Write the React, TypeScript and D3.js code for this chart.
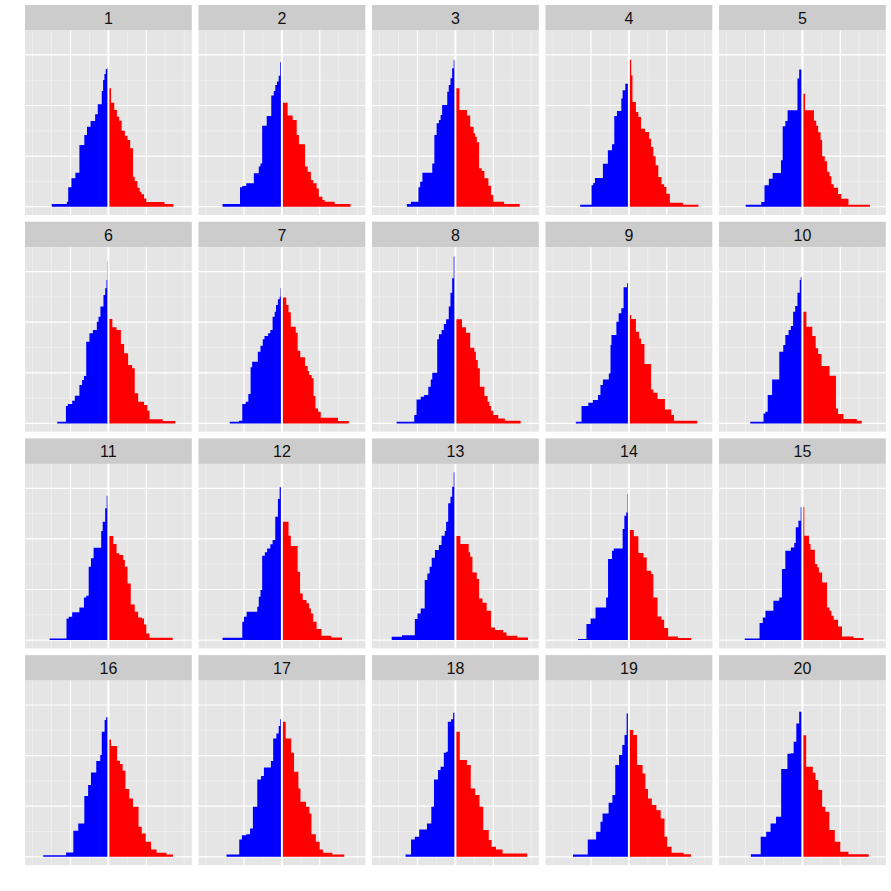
import React from 'react';
import * as d3 from 'd3';

const PANEL_LABELS = ["1","2","3","4","5","6","7","8","9","10","11","12","13","14","15","16","17","18","19","20"];
const X_MAJOR = [-2, 0, 2];
const X_MINOR = [-4, -3, -1, 1, 3, 4];
const Y_MAJOR = [0, 50, 100, 150];
const Y_MINOR = [25, 75, 125];
const X_DOMAIN: [number, number] = [-4.4, 4.4];
const Y_DOMAIN: [number, number] = [-8.2, 174.1];

type Step = [number, number];

// [left edge, count] steps; last entry is the closing edge
const BLUE_STEPS: Step[][] = [
  [[-2.99,2.6],[-2.19,4.9],[-2.12,19.1],[-1.95,28.0],[-1.74,33.6],[-1.53,61.0],[-1.27,70.9],[-1.13,79.1],[-0.94,84.7],[-0.70,91.3],[-0.56,101.2],[-0.35,114.4],[-0.28,125.2],[-0.21,131.2],[-0.14,136.1],[-0.07,137.4],[0,0]],
  [[-3.13,2.6],[-2.21,19.1],[-2.09,20.4],[-1.88,23.1],[-1.48,33.0],[-1.22,39.6],[-1.13,42.8],[-1.04,80.1],[-0.80,89.6],[-0.56,109.8],[-0.43,114.4],[-0.35,120.3],[-0.26,123.6],[-0.17,129.5],[-0.09,142.7],[0,0]],
  [[-2.56,2.6],[-2.35,4.9],[-1.95,19.1],[-1.86,24.7],[-1.74,33.6],[-1.22,42.8],[-1.11,70.9],[-0.99,82.4],[-0.87,85.7],[-0.78,90.6],[-0.70,100.5],[-0.43,113.7],[-0.35,120.3],[-0.26,126.9],[-0.17,136.8],[-0.09,145.0],[0,0]],
  [[-2.57,2.0],[-1.97,21.1],[-1.88,23.4],[-1.79,28.3],[-1.37,42.5],[-1.11,55.7],[-0.89,61.6],[-0.77,89.6],[-0.63,94.6],[-0.40,106.8],[-0.33,115.0],[-0.19,121.6],[0,0]],
  [[-2.99,2.0],[-2.17,4.6],[-2.0,21.1],[-1.77,27.7],[-1.57,33.3],[-1.13,45.8],[-1.04,79.4],[-0.90,84.7],[-0.78,95.3],[-0.26,126.6],[-0.17,135.5],[0,0]],
  [[-2.70,1.6],[-2.24,17.1],[-2.14,19.1],[-1.91,22.4],[-1.77,27.4],[-1.53,37.9],[-1.39,42.8],[-1.29,46.8],[-1.17,80.8],[-1.0,89.0],[-0.82,92.3],[-0.61,100.5],[-0.52,105.5],[-0.42,115.4],[-0.26,126.9],[-0.17,133.5],[-0.10,141.7],[-0.05,159.9],[0,0]],
  [[-2.75,1.6],[-2.26,2.6],[-2.09,19.1],[-1.91,21.4],[-1.77,29.0],[-1.65,55.4],[-1.57,61.0],[-1.27,70.9],[-1.13,76.8],[-1.01,83.1],[-0.92,86.4],[-0.73,89.0],[-0.61,92.3],[-0.49,105.5],[-0.38,110.4],[-0.31,117.0],[-0.21,122.6],[-0.12,125.2],[-0.07,133.5],[0,0]],
  [[-3.10,1.6],[-2.17,8.2],[-2.05,23.7],[-1.83,26.4],[-1.65,28.0],[-1.43,36.3],[-1.30,43.5],[-1.22,50.1],[-0.96,83.1],[-0.87,88.0],[-0.73,92.3],[-0.61,98.2],[-0.49,102.8],[-0.35,115.4],[-0.26,129.2],[-0.17,143.4],[-0.09,164.8],[0,0]],
  [[-2.80,1.6],[-2.50,17.1],[-2.14,20.4],[-1.90,23.1],[-1.63,28.0],[-1.50,37.9],[-1.37,43.5],[-1.06,49.4],[-0.97,77.5],[-0.92,87.3],[-0.66,100.5],[-0.54,108.8],[-0.40,113.7],[-0.28,134.5],[-0.10,138.4],[0,0]],
  [[-2.75,1.6],[-2.05,9.9],[-1.95,11.5],[-1.83,28.0],[-1.60,43.5],[-1.22,70.9],[-1.01,77.5],[-0.90,87.3],[-0.73,92.3],[-0.61,96.2],[-0.49,110.4],[-0.38,116.0],[-0.26,129.2],[-0.14,141.7],[-0.09,144.4],[0,0]],
  [[-3.10,1.6],[-2.21,21.4],[-2.09,23.1],[-1.91,27.4],[-1.53,32.3],[-1.29,42.2],[-1.17,43.8],[-1.04,72.5],[-0.92,80.8],[-0.78,91.3],[-0.38,107.8],[-0.30,117.0],[-0.17,130.2],[-0.09,142.7],[0,0]],
  [[-3.13,2.3],[-2.09,18.1],[-2.0,23.1],[-1.86,28.0],[-1.30,32.9],[-1.22,42.8],[-1.13,49.4],[-1.04,83.4],[-0.90,86.7],[-0.78,90.6],[-0.61,94.6],[-0.49,98.9],[-0.35,121.9],[-0.21,139.4],[-0.12,151.0],[0,0]],
  [[-3.36,3.3],[-2.82,4.9],[-2.14,20.8],[-2.0,26.4],[-1.83,31.3],[-1.62,59.3],[-1.48,65.9],[-1.36,72.5],[-1.25,81.4],[-1.08,89.0],[-0.87,93.9],[-0.73,103.2],[-0.56,107.8],[-0.49,117.0],[-0.38,135.1],[-0.26,141.7],[-0.17,151.6],[-0.09,165.8],[0,0]],
  [[-2.68,1.0],[-2.24,15.8],[-2.02,21.4],[-1.76,32.3],[-1.20,42.2],[-1.10,80.1],[-0.89,88.3],[-0.80,90.6],[-0.33,109.8],[-0.24,122.9],[-0.14,126.2],[-0.07,144.4],[0,0]],
  [[-3.04,1.6],[-2.26,16.8],[-2.09,22.4],[-1.95,29.0],[-1.53,38.9],[-1.22,42.2],[-1.08,70.2],[-0.90,88.3],[-0.61,91.6],[-0.43,95.9],[-0.35,111.4],[-0.21,118.0],[-0.09,131.2],[0,0]],
  [[-3.44,1.6],[-2.23,4.3],[-1.85,25.7],[-1.59,33.0],[-1.27,60.0],[-1.07,70.9],[-0.92,83.4],[-0.64,94.6],[-0.43,100.5],[-0.35,123.6],[-0.20,135.1],[-0.12,137.8],[0,0]],
  [[-2.92,2.3],[-2.25,17.1],[-2.11,21.4],[-1.88,22.4],[-1.68,28.0],[-1.53,49.4],[-1.30,76.5],[-1.10,79.8],[-0.95,88.3],[-0.58,94.6],[-0.46,117.0],[-0.29,121.9],[-0.17,129.2],[-0.09,135.8],[0,0]],
  [[-2.63,2.3],[-2.34,17.1],[-2.14,19.8],[-1.91,27.0],[-1.50,33.0],[-1.27,49.4],[-1.13,76.5],[-0.92,85.7],[-0.78,89.0],[-0.61,102.8],[-0.49,103.8],[-0.40,133.5],[-0.23,135.8],[-0.12,142.4],[0,0]],
  [[-2.95,2.3],[-2.17,17.1],[-1.73,24.7],[-1.50,34.6],[-1.39,42.8],[-1.07,53.4],[-0.87,61.0],[-0.72,90.6],[-0.52,100.5],[-0.35,110.4],[-0.23,120.3],[-0.12,141.7],[0,0]],
  [[-2.72,2.6],[-2.20,19.8],[-1.91,24.7],[-1.68,33.0],[-1.39,39.5],[-1.12,86.7],[-0.79,101.7],[-0.61,102.2],[-0.46,113.7],[-0.32,131.8],[-0.17,143.4],[0,0]],
];

const RED_STEPS: Step[][] = [
  [[0,117.0],[0.14,102.8],[0.31,95.6],[0.45,89.0],[0.57,85.0],[0.70,75.1],[0.87,70.2],[1.01,65.9],[1.15,57.7],[1.30,29.7],[1.39,25.4],[1.53,18.8],[1.65,14.8],[1.74,12.2],[1.88,8.2],[2.0,4.6],[2.96,2.6],[3.43,0]],
  [[0,102.8],[0.30,90.0],[0.57,85.7],[0.78,70.9],[0.90,61.6],[1.22,39.6],[1.36,34.6],[1.53,26.4],[1.65,23.1],[1.83,18.1],[1.95,9.9],[2.14,6.6],[2.26,4.9],[2.78,2.6],[3.62,0]],
  [[0,117.0],[0.21,95.6],[0.61,90.0],[0.78,79.1],[0.96,72.5],[1.04,69.2],[1.13,63.6],[1.25,37.9],[1.39,35.3],[1.53,28.0],[1.74,20.8],[1.88,11.5],[2.0,4.9],[2.57,2.6],[3.39,0]],
  [[0,145.3],[0.12,129.9],[0.19,103.5],[0.37,93.6],[0.50,88.7],[0.64,77.1],[0.85,73.8],[1.06,67.2],[1.17,59.0],[1.29,49.8],[1.41,40.9],[1.55,29.3],[1.72,22.1],[1.86,19.4],[1.98,12.9],[2.16,4.0],[2.85,2.0],[3.67,0]],
  [[0,111.7],[0.14,95.3],[0.61,85.0],[0.73,80.1],[0.83,73.5],[0.96,65.9],[1.04,49.8],[1.18,44.8],[1.30,34.6],[1.43,30.0],[1.53,22.1],[1.65,18.8],[1.88,12.5],[2.05,7.9],[2.43,2.0],[3.56,0]],
  [[0,103.2],[0.21,94.9],[0.43,92.3],[0.66,78.4],[0.83,69.2],[1.04,57.7],[1.25,54.4],[1.39,29.7],[1.57,21.4],[1.88,18.1],[2.05,12.5],[2.17,4.0],[2.87,2.3],[3.53,0]],
  [[0,124.3],[0.23,117.0],[0.35,109.8],[0.47,95.6],[0.73,89.6],[0.83,71.9],[0.97,65.3],[1.22,56.7],[1.36,51.7],[1.43,47.8],[1.57,44.5],[1.67,27.0],[1.77,14.8],[1.91,11.5],[2.05,5.6],[2.96,2.3],[3.53,0]],
  [[0,102.8],[0.35,94.9],[0.56,89.6],[0.78,74.8],[1.0,70.9],[1.08,62.6],[1.18,54.4],[1.29,36.3],[1.53,27.0],[1.70,21.4],[1.79,17.1],[1.88,12.5],[2.0,8.2],[2.26,4.9],[2.61,2.6],[3.44,0]],
  [[0,107.1],[0.12,103.2],[0.37,90.6],[0.54,84.0],[0.64,78.4],[0.82,58.7],[1.17,33.6],[1.29,30.3],[1.51,24.1],[1.90,13.8],[2.24,8.2],[2.38,2.6],[3.60,0]],
  [[0,110.4],[0.21,95.6],[0.52,86.4],[0.70,74.2],[0.83,68.6],[1.01,56.7],[1.43,47.1],[1.77,14.8],[1.88,9.2],[2.17,4.3],[2.87,2.6],[3.13,0]],
  [[0,102.8],[0.26,94.9],[0.43,85.7],[0.57,84.0],[0.78,79.1],[0.87,72.5],[1.01,56.0],[1.18,35.3],[1.39,28.0],[1.57,22.4],[1.77,21.4],[1.88,15.5],[2.0,6.6],[2.17,2.3],[3.39,0]],
  [[0,117.0],[0.35,103.2],[0.47,92.9],[0.83,67.6],[0.96,46.1],[1.10,39.5],[1.30,36.3],[1.43,31.3],[1.53,26.4],[1.65,18.1],[1.83,10.9],[2.09,4.3],[2.61,2.6],[3.17,0]],
  [[0,102.8],[0.26,94.9],[0.70,86.7],[0.78,82.4],[0.90,66.9],[1.13,60.3],[1.25,41.2],[1.43,36.9],[1.65,29.0],[1.88,12.5],[2.09,9.9],[2.52,7.6],[2.70,4.3],[3.27,2.6],[3.83,0]],
  [[0,108.8],[0.26,102.5],[0.50,86.0],[0.77,81.7],[0.94,68.6],[1.17,65.3],[1.29,42.2],[1.51,23.4],[1.72,20.1],[1.86,11.9],[2.07,3.6],[2.59,2.0],[3.29,0]],
  [[0,131.2],[0.10,103.2],[0.35,94.9],[0.43,89.3],[0.66,75.1],[0.78,71.9],[0.87,66.9],[1.04,57.0],[1.30,32.3],[1.43,29.0],[1.53,24.1],[1.65,20.1],[1.88,13.5],[2.09,3.6],[2.70,2.0],[3.22,0]],
  [[0,116.0],[0.14,109.4],[0.46,94.9],[0.61,91.6],[0.75,85.0],[0.90,66.9],[1.10,57.7],[1.30,49.4],[1.59,29.7],[1.76,23.1],[1.97,14.8],[2.25,7.3],[2.54,4.0],[3.06,2.3],[3.41,0]],
  [[0,133.5],[0.20,117.0],[0.49,102.8],[0.64,84.0],[0.87,67.6],[0.98,54.4],[1.27,49.4],[1.45,42.8],[1.56,22.4],[1.79,14.8],[1.99,7.3],[2.17,4.0],[2.66,2.3],[3.29,0]],
  [[0,123.6],[0.23,95.6],[0.61,90.6],[0.81,67.6],[1.04,61.0],[1.27,49.4],[1.47,26.4],[1.76,16.5],[1.91,9.9],[2.14,7.3],[2.49,3.3],[3.79,0]],
  [[0,125.2],[0.23,120.3],[0.43,90.6],[0.72,82.4],[0.87,66.9],[1.01,57.7],[1.21,51.1],[1.45,46.1],[1.68,37.9],[1.88,19.8],[2.02,9.9],[2.25,4.0],[2.89,2.6],[3.27,0]],
  [[0,120.0],[0.20,89.0],[0.55,83.1],[0.69,75.8],[0.84,65.9],[1.04,49.4],[1.21,44.5],[1.42,26.4],[1.71,14.8],[2.0,4.9],[2.43,2.6],[3.50,0]],
];

const W = 891;
const H = 891;
const LEFT = 25;
const TOP = 5;
const PANEL_W = 166.8;
const GAP = 6.7;
const STRIP_H = 25.5;
const PANEL_H = 184.5;
const NCOL = 5;

export default function App() {
  const x = d3.scaleLinear().domain(X_DOMAIN).range([0, PANEL_W]);
  const y = d3.scaleLinear().domain(Y_DOMAIN).range([PANEL_H, 0]);
  const area = d3
    .area<Step>()
    .curve(d3.curveStepAfter)
    .x((d) => x(d[0]))
    .y0(y(0))
    .y1((d) => y(d[1]));

  return (
    <svg
      width={W}
      height={H}
      viewBox={`0 0 ${W} ${H}`}
      style={{ position: 'absolute', left: 0, top: 0, background: '#fff' }}
    >
      <rect x={0} y={0} width={W} height={H} fill="#ffffff" />
      {PANEL_LABELS.map((label, i) => {
        const col = i % NCOL;
        const row = Math.floor(i / NCOL);
        const px = LEFT + col * (PANEL_W + GAP);
        const py = TOP + row * (STRIP_H + PANEL_H + GAP);
        return (
          <g key={label}>
            <rect x={px} y={py} width={PANEL_W} height={STRIP_H} fill="#CCCCCC" />
            <text
              x={px + PANEL_W / 2}
              y={py + 18.9}
              textAnchor="middle"
              fontFamily="'Liberation Sans', Arial, Helvetica, sans-serif"
              fontSize={16}
              fill="#111111"
            >
              {label}
            </text>
            <g transform={`translate(${px},${py + STRIP_H})`}>
              <rect x={0} y={0} width={PANEL_W} height={PANEL_H} fill="#E5E5E5" />
              {Y_MINOR.map((v) => (
                <line key={`ym${v}`} x1={0} x2={PANEL_W} y1={y(v)} y2={y(v)} stroke="#F2F2F2" strokeWidth={0.7} />
              ))}
              {X_MINOR.map((v) => (
                <line key={`xm${v}`} x1={x(v)} x2={x(v)} y1={0} y2={PANEL_H} stroke="#F2F2F2" strokeWidth={0.7} />
              ))}
              {Y_MAJOR.map((v) => (
                <line key={`yM${v}`} x1={0} x2={PANEL_W} y1={y(v)} y2={y(v)} stroke="#ffffff" strokeWidth={1.2} />
              ))}
              {X_MAJOR.map((v) => (
                <line key={`xM${v}`} x1={x(v)} x2={x(v)} y1={0} y2={PANEL_H} stroke="#ffffff" strokeWidth={1.2} />
              ))}
              <path d={area(BLUE_STEPS[i]) || ''} fill="#0000FF" />
              <path d={area(RED_STEPS[i]) || ''} fill="#FF0000" />
              <line x1={x(0)} x2={x(0)} y1={0} y2={PANEL_H} stroke="#ffffff" strokeWidth={2} />
            </g>
          </g>
        );
      })}
    </svg>
  );
}
